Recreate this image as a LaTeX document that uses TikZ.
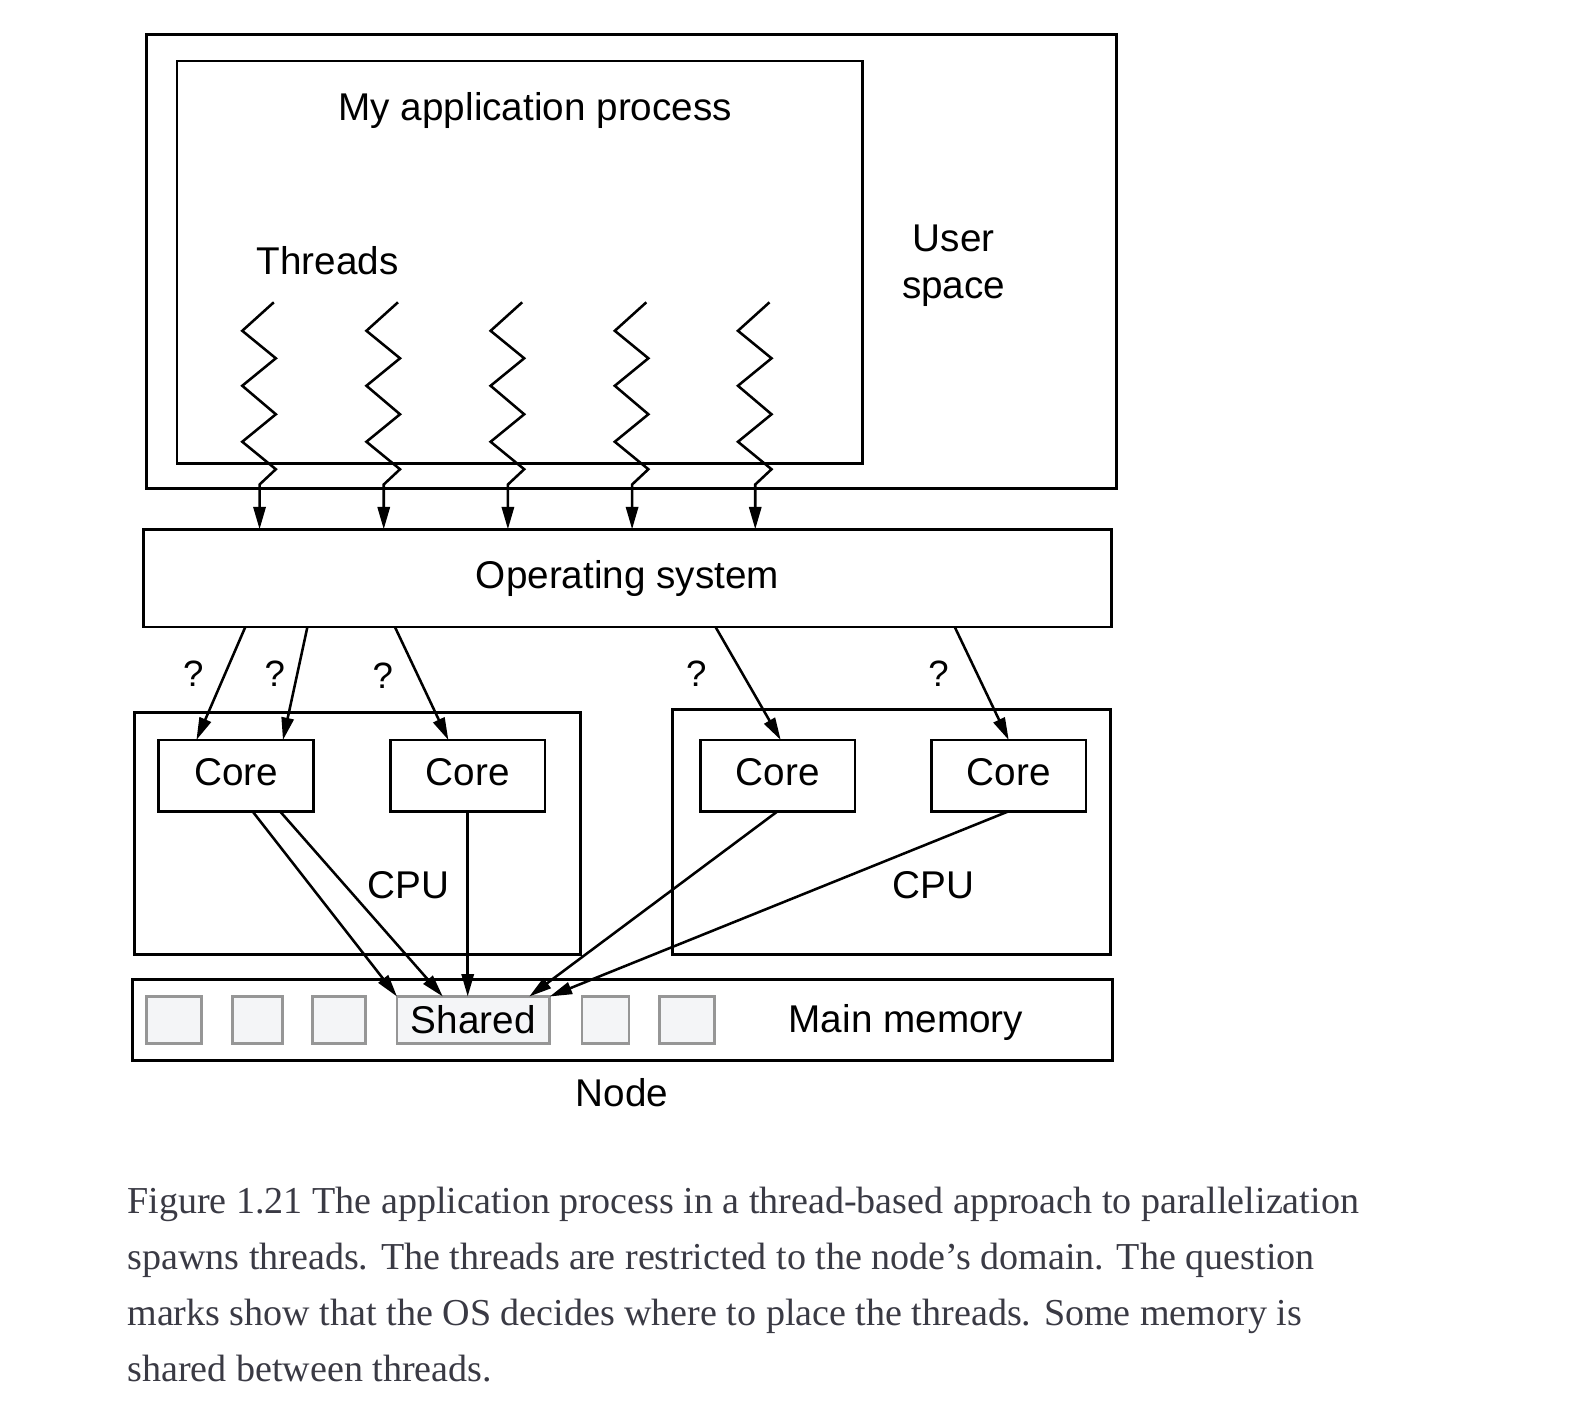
\documentclass[tikz,border=0pt]{standalone}
\usepackage{fontspec}
\setmainfont{Liberation Sans}
\newfontfamily\capfont{Liberation Serif}
\usetikzlibrary{arrows.meta}
\definecolor{capgray}{RGB}{58,58,68}
\definecolor{cellgray}{RGB}{244,245,247}
\definecolor{celledge}{RGB}{150,150,150}
\tikzset{
	box/.style={draw,line width=2.7pt,inner sep=0,outer sep=0},
	lbl/.style={font=\fontsize{38}{46}\selectfont,align=center,inner sep=0},
	corebox/.style={box,lbl,minimum width=152pt,minimum height=70pt,text depth=8pt},
	qm/.style={font=\fontsize{36}{40}\selectfont,inner sep=0},
	cell/.style={draw=celledge,fill=cellgray,line width=2.4pt,inner sep=0,outer sep=0,minimum height=46pt},
	arr/.style={line width=2.5pt,-{Triangle[length=22pt,width=12pt]}},
	thr/.style={line width=2.5pt,line join=miter,-{Triangle[length=22pt,width=12pt]}},
	captext/.style={font=\capfont\fontsize{37.4}{55}\selectfont,text=capgray,inner sep=0,anchor=base west}
}
\begin{document}
\begin{tikzpicture}[x=1pt,y=-1pt]
	\useasboundingbox (0,0) rectangle (1568,1401);
	\node[box,minimum width=953pt,minimum height=446pt] (user) at (620.5,257) {};
	\node[box,minimum width=673pt,minimum height=395pt] (app) at (510.5,257.5) {};
	\node[lbl] (apptitle) at (526,109) {My application process};
	\node[lbl] (userspace) at (937,261) {User\\space};
	\node[lbl] (threads) at (322,256) {Threads};
	\node[box,lbl,minimum width=951pt,minimum height=96pt] (os) at (616.5,568) {Operating system};
	\node[box,minimum width=438pt,minimum height=238pt] (cpu1) at (351,819) {};
	\node[box,minimum width=430pt,minimum height=241pt] (cpu2) at (876,817.5) {};
	\node[corebox] (core1) at (232,762) {Core};
	\node[corebox] (core2) at (459.5,762) {Core};
	\node[corebox] (core3) at (764,762) {Core};
	\node[corebox] (core4) at (991,762) {Core};
	\node[lbl] (cpulbl1) at (401,870) {CPU};
	\node[lbl] (cpulbl2) at (917,870) {CPU};
	\node[box,minimum width=963pt,minimum height=80pt] (mem) at (611.5,1002) {};
	\node[cell,minimum width=54pt] (cell1) at (171,1002) {};
	\node[cell,minimum width=49pt] (cell2) at (253,1002) {};
	\node[cell,minimum width=52pt] (cell3) at (333,1002) {};
	\node[cell,lbl,minimum width=150pt] (shared) at (465,1002) {Shared};
	\node[cell,minimum width=46pt] (cell5) at (595,1002) {};
	\node[cell,minimum width=54pt] (cell6) at (675,1002) {};
	\node[lbl] (memlbl) at (890,1005) {Main memory};
	\node[lbl] (nodelbl) at (611,1073) {Node};
	\node[qm] (q1) at (190,662) {?};
	\node[qm] (q2) at (270,662) {?};
	\node[qm] (q3) at (376,664) {?};
	\node[qm] (q4) at (684,662) {?};
	\node[qm] (q5) at (922,662) {?};
	\coordinate (t1) at (255,297);
	\coordinate (t2) at (377,297);
	\coordinate (t3) at (499,297);
	\coordinate (t4) at (621,297);
	\coordinate (t5) at (742,297);
	\draw[thr] ([xshift=14pt]t1) -- ++(-31,28) -- ++(33,27) -- ++(-33,27) -- ++(33,28) -- ++(-33,27) -- ++(33,27) -- ++(-16,15) -- (t1 |- os.north);
	\draw[thr] ([xshift=14pt]t2) -- ++(-31,28) -- ++(33,27) -- ++(-33,27) -- ++(33,28) -- ++(-33,27) -- ++(33,27) -- ++(-16,15) -- (t2 |- os.north);
	\draw[thr] ([xshift=14pt]t3) -- ++(-31,28) -- ++(33,27) -- ++(-33,27) -- ++(33,28) -- ++(-33,27) -- ++(33,27) -- ++(-16,15) -- (t3 |- os.north);
	\draw[thr] ([xshift=14pt]t4) -- ++(-31,28) -- ++(33,27) -- ++(-33,27) -- ++(33,28) -- ++(-33,27) -- ++(33,27) -- ++(-16,15) -- (t4 |- os.north);
	\draw[thr] ([xshift=14pt]t5) -- ++(-31,28) -- ++(33,27) -- ++(-33,27) -- ++(33,28) -- ++(-33,27) -- ++(33,27) -- ++(-16,15) -- (t5 |- os.north);
	\draw[arr] ([xshift=100pt]os.south west) -- ([xshift=-39pt]core1.north);
	\draw[arr] ([xshift=161pt]os.south west) -- ([xshift=46pt]core1.north);
	\draw[arr] ([xshift=247pt]os.south west) -- ([xshift=-19pt]core2.north);
	\draw[arr] ([xshift=562pt]os.south west) -- ([xshift=3pt]core3.north);
	\draw[arr] ([xshift=797pt]os.south west) -- (core4.north);
	\draw[arr] ([xshift=16pt]core1.south) -- (shared.north west);
	\draw[arr] ([xshift=43pt]core1.south) -- ([xshift=-30pt]shared.north);
	\draw[arr] (core2.south) -- (core2.south |- shared.north);
	\draw[arr] (core3.south) -- ([xshift=55pt]shared.north);
	\draw[arr] (core4.south) -- (shared.north east);
	\node[captext] (cap1) at (125,1192) {Figure 1.21 The application process in a thread-based approach to parallelization};
	\node[captext] (cap2) at (125,1247) {spawns threads. The threads are restricted to the node’s domain. The question};
	\node[captext] (cap3) at (125,1302) {marks show that the OS decides where to place the threads. Some memory is};
	\node[captext] (cap4) at (125,1357) {shared between threads.};
\end{tikzpicture}
\end{document}
